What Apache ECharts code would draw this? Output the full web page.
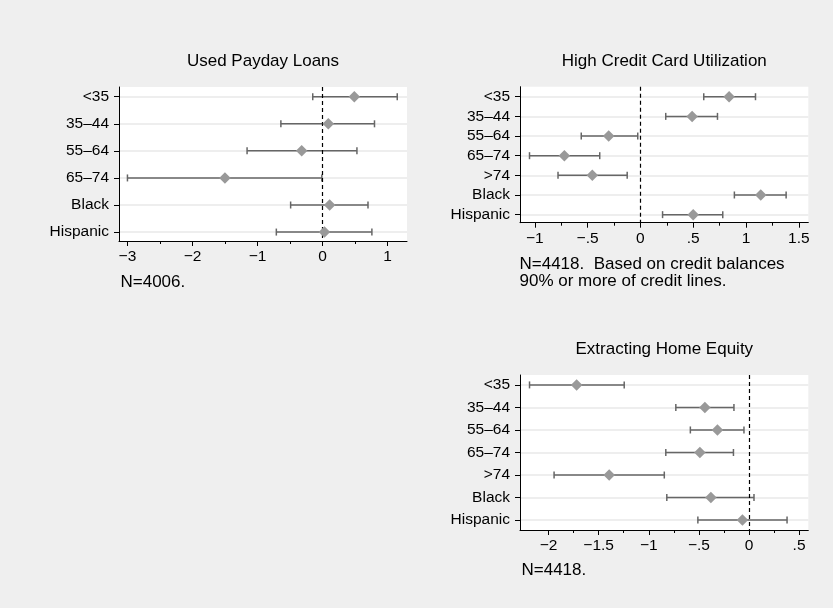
<!DOCTYPE html>
<html><head><meta charset="utf-8">
<script src="https://cdn.jsdelivr.net/npm/echarts@6/dist/echarts.min.js"></script>
<style>html,body{margin:0;padding:0;background:#efefef}#c{width:833px;height:608px}</style>
</head><body><div id="c"></div>
<script>
// ---- Data ----
const catsPayday = ['<35', '35–44', '55–64', '65–74', 'Black', 'Hispanic'];
const estPayday  = [0.49, 0.09, -0.32, -1.50, 0.11, 0.03];
const lowPayday  = [-0.15, -0.64, -1.16, -3.00, -0.49, -0.71];
const highPayday = [1.15, 0.80, 0.53, -0.01, 0.70, 0.76];

const catsCredit = ['<35', '35–44', '55–64', '65–74', '>74', 'Black', 'Hispanic'];
const estCredit  = [0.84, 0.49, -0.30, -0.72, -0.455, 1.14, 0.50];
const lowCredit  = [0.60, 0.24, -0.56, -1.05, -0.78, 0.89, 0.21];
const highCredit = [1.09, 0.73, -0.025, -0.385, -0.125, 1.38, 0.78];

const catsEquity = ['<35', '35–44', '55–64', '65–74', '>74', 'Black', 'Hispanic'];
const estEquity  = [-1.72, -0.44, -0.315, -0.49, -1.395, -0.38, -0.065];
const lowEquity  = [-2.19, -0.73, -0.585, -0.83, -1.945, -0.82, -0.51];
const highEquity = [-1.245, -0.15, -0.05, -0.155, -0.845, 0.05, 0.38];

const ticksPayday = [-3, -2, -1, 0, 1];
const minorPayday = [-2.5, -1.5, -0.5, 0.5];
const ticksCredit = [-1, -0.5, 0, 0.5, 1, 1.5];
const minorCredit = [-0.75, -0.25, 0.25, 0.75, 1.25];
const ticksEquity = [-2, -1.5, -1, -0.5, 0, 0.5];
const minorEquity = [-1.75, -1.25, -0.75, -0.25, 0.25];

const titles = ['Used Payday Loans', 'High Credit Card Utilization', 'Extracting Home Equity'];
const notes = [['N=4006.'], ['N=4418.  Based on credit balances', '90% or more of credit lines.'], ['N=4418.']];

// ---- Layout ----
const FONT = '"Liberation Sans", Arial, Helvetica, sans-serif';
const panels = [
  {cats: catsPayday, est: estPayday, low: lowPayday, high: highPayday, ticks: ticksPayday, minor: minorPayday,
   grid: {left: 119, top: 87, width: 288, height: 154}, x: [-3.13, 1.30], y: [-0.36, 5.33],
   title: [263, 61], note: [120.5, 282]},
  {cats: catsCredit, est: estCredit, low: lowCredit, high: highCredit, ticks: ticksCredit, minor: minorCredit,
   grid: {left: 520, top: 86.7, width: 288.3, height: 136}, x: [-1.14, 1.59], y: [-0.51, 6.41],
   title: [664.3, 61], note: [519.5, 264.3]},
  {cats: catsEquity, est: estEquity, low: lowEquity, high: highEquity, ticks: ticksEquity, minor: minorEquity,
   grid: {left: 520, top: 375, width: 288.3, height: 155}, x: [-2.285, 0.592], y: [-0.44, 6.44],
   title: [664.3, 349.3], note: [521.5, 570.3]}
];

function fmtNum(v) {
  if (v === 0) return '0';
  const a = Math.abs(v);
  let s = String(a);
  if (a < 1) s = s.replace(/^0/, '');
  return (v < 0 ? '−' : '') + s;
}

function errRender(params, api) {
  const y = api.value(2);
  const p1 = api.coord([api.value(0), y]);
  const p2 = api.coord([api.value(1), y]);
  const h = 3.5;
  const style = {stroke: '#666666', lineWidth: 1.5, fill: null};
  return {type: 'group', children: [
    {type: 'line', shape: {x1: p1[0], y1: p1[1], x2: p2[0], y2: p2[1]}, style: style},
    {type: 'line', shape: {x1: p1[0], y1: p1[1] - h, x2: p1[0], y2: p1[1] + h}, style: style},
    {type: 'line', shape: {x1: p2[0], y1: p2[1] - h, x2: p2[0], y2: p2[1] + h}, style: style}
  ]};
}

const grid = [], xAxis = [], yAxis = [], series = [], graphic = [];
panels.forEach((p, k) => {
  grid.push(Object.assign({show: true, backgroundColor: '#ffffff', borderWidth: 0}, p.grid));
  xAxis.push({
    type: 'value', gridIndex: k, min: p.x[0], max: p.x[1], position: 'bottom',
    axisLine: {show: true, onZero: false, lineStyle: {color: '#000', width: 1}},
    axisTick: {show: true, length: 5, lineStyle: {color: '#000', width: 1}, customValues: p.ticks},
    axisLabel: {show: true, customValues: p.ticks, formatter: fmtNum, margin: 8,
      fontFamily: FONT, fontSize: 15.5, color: '#000'},
    splitLine: {show: false}
  });
  xAxis.push({
    type: 'value', gridIndex: k, min: p.x[0], max: p.x[1], position: 'bottom',
    axisLine: {show: false, onZero: false},
    axisTick: {show: true, length: 3, lineStyle: {color: '#000', width: 1}, customValues: p.minor},
    axisLabel: {show: false},
    splitLine: {show: false}
  });
  yAxis.push({
    type: 'value', gridIndex: k, min: p.y[0], max: p.y[1], inverse: true, position: 'left',
    axisLine: {show: true, onZero: false, lineStyle: {color: '#000', width: 1}},
    axisTick: {show: true, length: 5, lineStyle: {color: '#000', width: 1}, customValues: p.cats.map((c, i) => i)},
    axisLabel: {show: true, customValues: p.cats.map((c, i) => i), formatter: v => p.cats[Math.round(v)],
      margin: 10, fontFamily: FONT, fontSize: 15.5, color: '#000'},
    splitLine: {show: false}
  });
  // grid lines per category
  series.push({
    type: 'scatter', xAxisIndex: 2 * k, yAxisIndex: k, data: [], z: 1, silent: true,
    markLine: {silent: true, symbol: 'none', animation: false, label: {show: false}, z: 0,
      lineStyle: {color: '#e8e8e8', width: 1.5, type: 'solid'},
      data: p.cats.map((c, i) => ({yAxis: i}))}
  });
  // error bars
  series.push({
    type: 'custom', xAxisIndex: 2 * k, yAxisIndex: k, z: 2, silent: true, animation: false,
    renderItem: errRender, encode: {x: [0, 1], y: 2},
    data: p.cats.map((c, i) => [p.low[i], p.high[i], i])
  });
  // point estimates + zero line
  series.push({
    type: 'scatter', xAxisIndex: 2 * k, yAxisIndex: k, z: 4, silent: true, animation: false,
    symbol: 'diamond', symbolSize: 11.5, itemStyle: {color: '#999999', opacity: 1},
    data: p.cats.map((c, i) => [p.est[i], i]),
    markLine: {silent: true, symbol: 'none', animation: false, label: {show: false}, z: 3,
      lineStyle: {color: '#000', width: 1.2, type: [4, 3]},
      data: [{xAxis: 0}]}
  });
  graphic.push({type: 'text', x: p.title[0], y: p.title[1],
    style: {text: titles[k], align: 'center', verticalAlign: 'middle', font: '17px ' + FONT, fill: '#000'}});
  notes[k].forEach((line, j) => {
    graphic.push({type: 'text', x: p.note[0], y: p.note[1] + j * 16.7,
      style: {text: line, align: 'left', verticalAlign: 'middle', font: '17px ' + FONT, fill: '#000'}});
  });
});

const chart = echarts.init(document.getElementById('c'), null, {renderer: 'canvas'});
chart.setOption({
  backgroundColor: '#efefef',
  animation: false,
  grid: grid, xAxis: xAxis, yAxis: yAxis, series: series, graphic: graphic
});
</script>
</body></html>
